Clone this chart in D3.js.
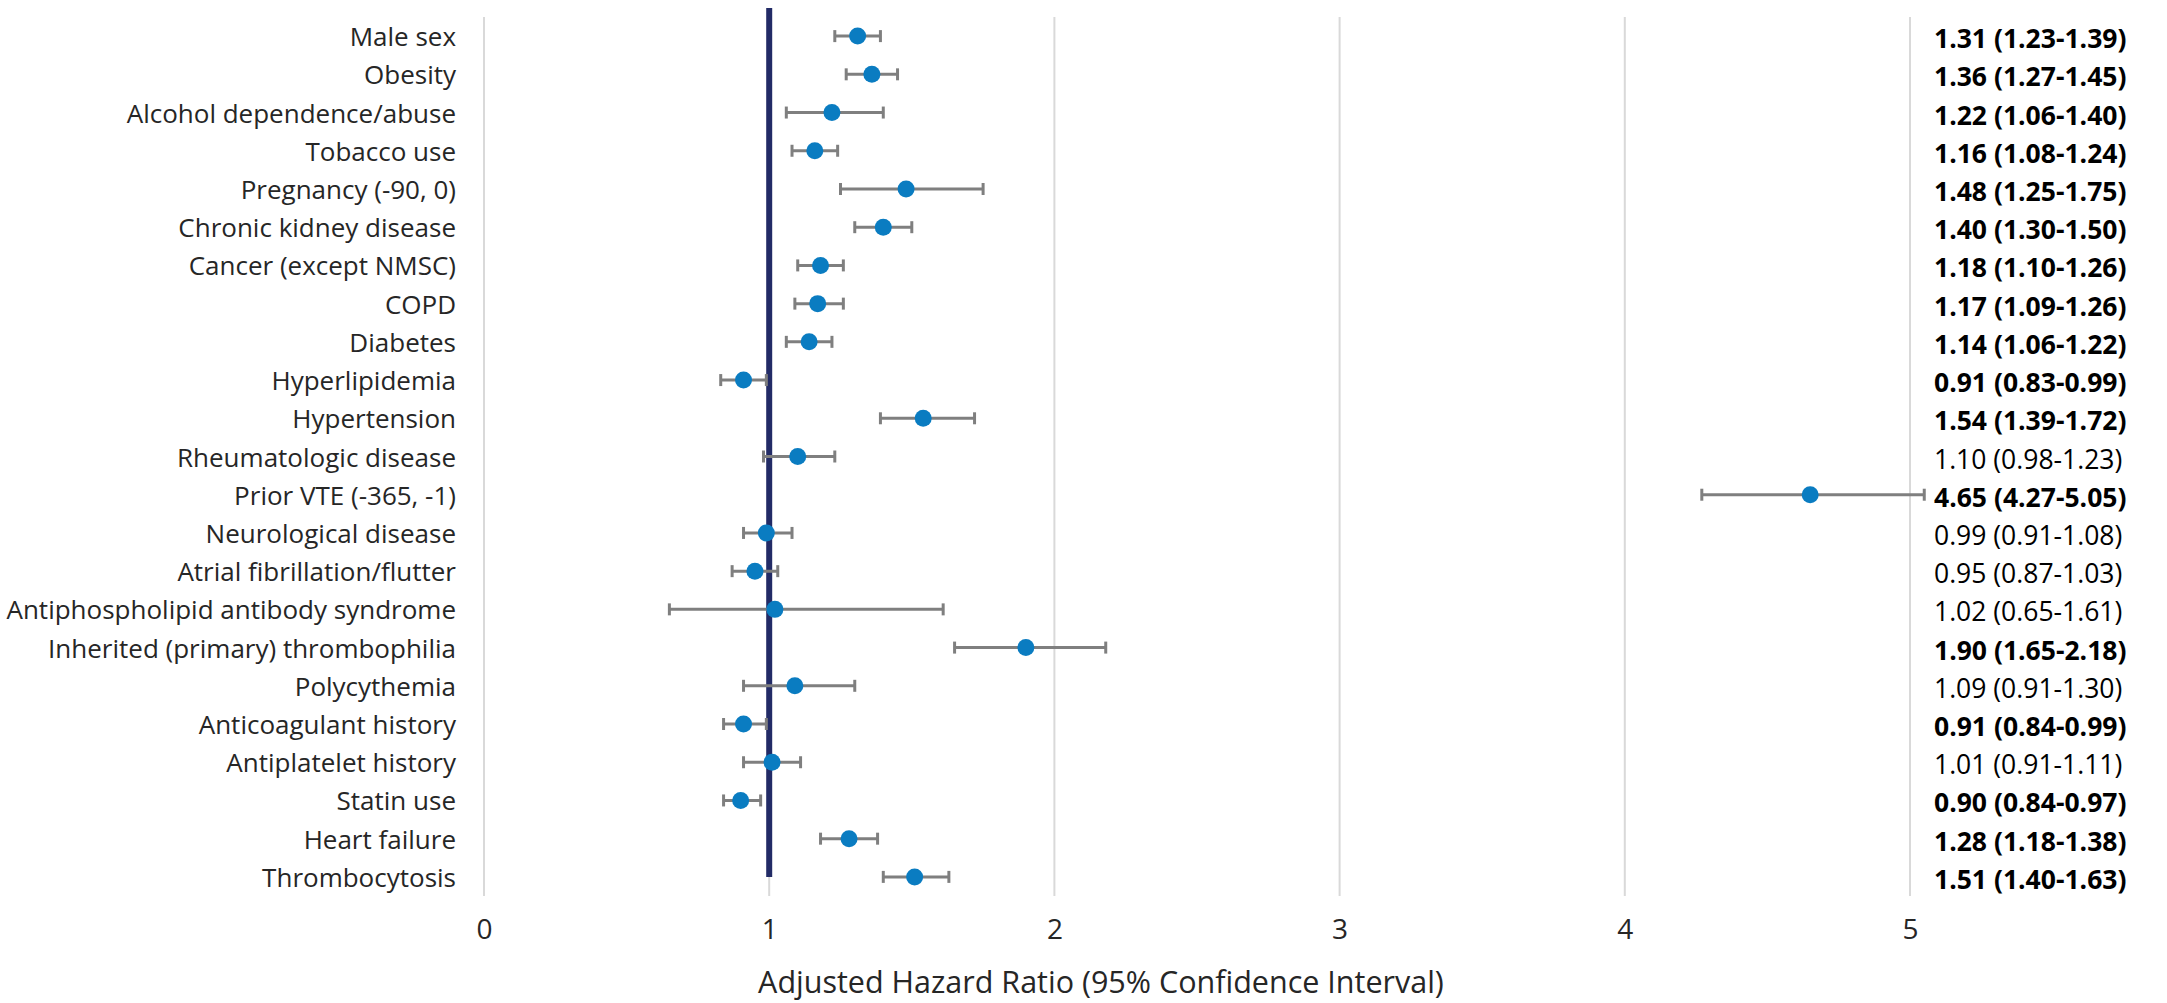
<!DOCTYPE html>
<html>
<head>
<meta charset="utf-8">
<script src="https://cdn.jsdelivr.net/npm/d3@7"></script>
<style>
  html, body { margin: 0; padding: 0; background: #ffffff; }
  svg { display: block; font-family: "Open Sans", "DejaVu Sans", sans-serif; }
</style>
</head>
<body>
<svg id="chart" width="2167" height="1003"></svg>
<script>
// Risk factors, top to bottom
const factors = [
  "Male sex", "Obesity", "Alcohol dependence/abuse", "Tobacco use",
  "Pregnancy (-90, 0)", "Chronic kidney disease", "Cancer (except NMSC)",
  "COPD", "Diabetes", "Hyperlipidemia", "Hypertension", "Rheumatologic disease",
  "Prior VTE (-365, -1)", "Neurological disease", "Atrial fibrillation/flutter",
  "Antiphospholipid antibody syndrome", "Inherited (primary) thrombophilia",
  "Polycythemia", "Anticoagulant history", "Antiplatelet history",
  "Statin use", "Heart failure", "Thrombocytosis"
];

// Adjusted hazard ratios with 95% confidence bounds
const hr    = [1.31, 1.36, 1.22, 1.16, 1.48, 1.40, 1.18, 1.17, 1.14, 0.91, 1.54, 1.10, 4.65, 0.99, 0.95, 1.02, 1.90, 1.09, 0.91, 1.01, 0.90, 1.28, 1.51];
const lower = [1.23, 1.27, 1.06, 1.08, 1.25, 1.30, 1.10, 1.09, 1.06, 0.83, 1.39, 0.98, 4.27, 0.91, 0.87, 0.65, 1.65, 0.91, 0.84, 0.91, 0.84, 1.18, 1.40];
const upper = [1.39, 1.45, 1.40, 1.24, 1.75, 1.50, 1.26, 1.26, 1.22, 0.99, 1.72, 1.23, 5.05, 1.08, 1.03, 1.61, 2.18, 1.30, 0.99, 1.11, 0.97, 1.38, 1.63];

// Statistically significant results are printed in bold
const significant = [true, true, true, true, true, true, true, true, true, true, true, false, true, false, false, false, true, false, true, false, true, true, true];

const xTicks = [0, 1, 2, 3, 4, 5];
const referenceHR = 1;
const axisTitle = "Adjusted Hazard Ratio (95% Confidence Interval)";

const rows = factors.map((f, i) => ({
  factor: f, hr: hr[i], lo: lower[i], hi: upper[i], sig: significant[i]
}));

const fmt = d3.format(".2f");
const svg = d3.select("#chart");

const plotTop = 17, plotBottom = 896;
const x = d3.scaleLinear().domain([0, 5]).range([484, 1910]);
const y = d3.scaleBand().domain(factors).range([plotTop, plotBottom]).padding(0);
const yc = f => y(f) + y.bandwidth() / 2;

// Vertical gridlines
svg.append("g")
  .selectAll("line")
  .data(xTicks)
  .join("line")
  .attr("x1", d => x(d)).attr("x2", d => x(d))
  .attr("y1", plotTop).attr("y2", plotBottom)
  .attr("stroke", "#d9d9d9").attr("stroke-width", 2);

// Tick labels along the bottom
const xAxis = svg.append("g")
  .attr("transform", `translate(0,${plotBottom + 18})`)
  .call(d3.axisBottom(x).tickValues(xTicks).tickFormat(d3.format("d")).tickSize(0).tickPadding(0));
xAxis.select(".domain").remove();
xAxis.selectAll("text")
  .attr("font-family", "Open Sans, sans-serif")
  .attr("font-size", 28)
  .attr("fill", "#262626")
  .attr("dy", "0.9em");

// Reference line at HR = 1
svg.append("line")
  .attr("x1", x(referenceHR)).attr("x2", x(referenceHR))
  .attr("y1", yc(factors[0]) - 28)
  .attr("y2", yc(factors[factors.length - 1]))
  .attr("stroke", "#222b66").attr("stroke-width", 6);

// Confidence intervals with end caps
const ci = svg.append("g").attr("stroke", "#7f7f7f").attr("stroke-width", 3).attr("fill", "none");
ci.selectAll("line.span")
  .data(rows).join("line").attr("class", "span")
  .attr("x1", d => x(d.lo)).attr("x2", d => x(d.hi))
  .attr("y1", d => yc(d.factor)).attr("y2", d => yc(d.factor));
ci.selectAll("line.capLo")
  .data(rows).join("line").attr("class", "capLo")
  .attr("x1", d => x(d.lo)).attr("x2", d => x(d.lo))
  .attr("y1", d => yc(d.factor) - 6).attr("y2", d => yc(d.factor) + 6);
ci.selectAll("line.capHi")
  .data(rows).join("line").attr("class", "capHi")
  .attr("x1", d => x(d.hi)).attr("x2", d => x(d.hi))
  .attr("y1", d => yc(d.factor) - 6).attr("y2", d => yc(d.factor) + 6);

// Point estimates
svg.append("g")
  .selectAll("circle")
  .data(rows).join("circle")
  .attr("cx", d => x(d.hr))
  .attr("cy", d => yc(d.factor))
  .attr("r", 8.5)
  .attr("fill", "#0a7cc1");

// Factor names on the left
svg.append("g")
  .selectAll("text")
  .data(rows).join("text")
  .attr("x", 456)
  .attr("y", d => yc(d.factor))
  .attr("text-anchor", "end")
  .attr("dominant-baseline", "central")
  .attr("font-size", 26)
  .attr("fill", "#262626")
  .text(d => d.factor);

// HR (95% CI) column on the right
svg.append("g")
  .selectAll("text")
  .data(rows).join("text")
  .attr("x", 1934)
  .attr("y", d => yc(d.factor) + 2)
  .attr("dominant-baseline", "central")
  .attr("font-size", 26.5)
  .attr("font-weight", d => d.sig ? 700 : 400)
  .attr("fill", "#000000")
  .text(d => `${fmt(d.hr)} (${fmt(d.lo)}-${fmt(d.hi)})`);

// Axis title
svg.append("text")
  .attr("x", 1101)
  .attr("y", 981)
  .attr("text-anchor", "middle")
  .attr("dominant-baseline", "central")
  .attr("font-size", 30.5)
  .attr("fill", "#262626")
  .text(axisTitle);
</script>
</body>
</html>
